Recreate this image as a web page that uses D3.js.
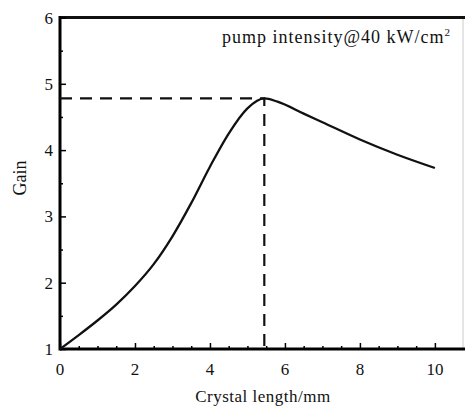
<!DOCTYPE html>
<html>
  <head>
    <meta charset="utf-8">
    <style>
      body { margin: 0; background: #fff; }
      text { font-family: "Liberation Serif", "DejaVu Serif", serif; fill: #111; }
    </style>
  </head>
  <body>
    <script src="https://cdn.jsdelivr.net/npm/d3@7"></script>
    <script>
    // values
    var lengthMm = [0, 0.5, 1, 1.5, 2, 2.5, 3, 3.5, 4, 4.5, 5, 5.45, 5.8, 6.5, 7, 8, 9, 10];
    var gain     = [1.0, 1.21, 1.43, 1.67, 1.95, 2.28, 2.7, 3.2, 3.75, 4.25, 4.63, 4.78, 4.73, 4.55, 4.42, 4.16, 3.93, 3.73];
    var peak = { x: 5.45, y: 4.78 };
    var xTicks = [0, 2, 4, 6, 8, 10];
    var yTicks = [1, 2, 3, 4, 5, 6];

    var width = 465, height = 408;
    var m = { left: 60, top: 17.5, right: 2, bottom: 59 };

    var svg = d3.select("body").append("svg")
        .attr("width", width)
        .attr("height", height);

    var x = d3.scaleLinear().domain([0, 10.75]).range([m.left, width - m.right]);
    var y = d3.scaleLinear().domain([1, 6]).range([height - m.bottom, m.top]);

    // frame: faint right side, it is cut off in the picture
    svg.append("line")
        .attr("x1", x(10.75)).attr("x2", x(10.75))
        .attr("y1", y(6)).attr("y2", y(1))
        .attr("stroke", "#ccc").attr("stroke-width", 1);
    svg.append("line")
        .attr("x1", x(0)).attr("x2", width)
        .attr("y1", y(6)).attr("y2", y(6))
        .attr("stroke", "#111").attr("stroke-width", 3);

    // bottom axis, ticks pointing inward
    var xAxis = svg.append("g")
        .attr("transform", "translate(0," + y(1) + ")")
        .call(d3.axisBottom(x).tickValues(d3.range(0, 10.5, 0.5)).tickSize(-3).tickFormat(""));
    xAxis.selectAll(".tick line").attr("stroke-width", 1.5)
        .filter(function(d) { return d % 2 === 0; }).attr("y2", -6);
    xAxis.select(".domain").attr("stroke-width", 3).attr("d", "M" + x(0) + ",0H" + width);

    svg.selectAll(".xlab").data(xTicks).enter().append("text")
        .attr("x", function(d) { return x(d); })
        .attr("y", y(1) + 26)
        .attr("text-anchor", "middle")
        .attr("font-size", 17)
        .text(function(d) { return d; });

    // left axis
    var yAxis = svg.append("g")
        .attr("transform", "translate(" + x(0) + ",0)")
        .call(d3.axisLeft(y).tickValues(d3.range(1, 6.01, 0.5)).tickSize(-3).tickFormat(""));
    yAxis.selectAll(".tick line").attr("stroke-width", 1.5)
        .filter(function(d) { return d % 1 === 0; }).attr("x2", 6);
    yAxis.select(".domain").attr("stroke-width", 3).attr("d", "M0," + (y(6) - 1.5) + "V" + (y(1) + 1.5));

    svg.selectAll(".ylab").data(yTicks).enter().append("text")
        .attr("x", x(0) - 7)
        .attr("y", function(d) { return y(d) + 6; })
        .attr("text-anchor", "end")
        .attr("font-size", 17)
        .text(function(d) { return d; });

    // axis titles
    svg.append("text")
        .attr("x", 263).attr("y", 402)
        .attr("text-anchor", "middle")
        .attr("font-size", 17)
        .attr("letter-spacing", 0.5)
        .text("Crystal length/mm");
    svg.append("text")
        .attr("transform", "translate(26,178) rotate(-90)")
        .attr("text-anchor", "middle")
        .attr("font-size", 18)
        .text("Gain");

    // annotation
    var note = svg.append("text")
        .attr("x", 222).attr("y", 43)
        .attr("font-size", 18)
        .attr("letter-spacing", 1)
        .text("pump intensity@40 kW/cm");
    note.append("tspan").attr("dy", -7).attr("font-size", 11).text("2");

    // dashed guides to the peak
    svg.append("path")
        .attr("d", "M" + x(0) + "," + y(peak.y) + "H" + x(peak.x) + "V" + y(1))
        .attr("fill", "none")
        .attr("stroke", "#111")
        .attr("stroke-width", 2.2)
        .attr("stroke-dasharray", "12,8");

    // gain curve
    var pts = lengthMm.map(function(d, i) { return [d, gain[i]]; });
    svg.append("path")
        .datum(pts)
        .attr("fill", "none")
        .attr("stroke", "#111")
        .attr("stroke-width", 2.3)
        .attr("d", d3.line()
            .x(function(d) { return x(d[0]); })
            .y(function(d) { return y(d[1]); })
            .curve(d3.curveMonotoneX));
    </script>
  </body>
</html>
